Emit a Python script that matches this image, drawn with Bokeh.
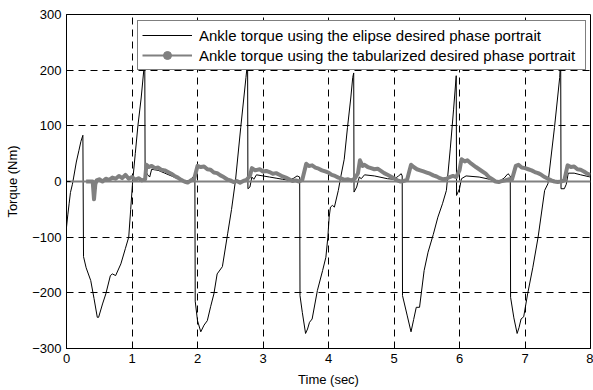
from bokeh.plotting import figure
from bokeh.models import Range1d, Legend, LegendItem, ColumnDataSource
from bokeh.embed import file_html
from bokeh.resources import INLINE

# Ankle torque using the elipse desired phase portrait (black)
t_elipse = [0.00, 0.02, 0.04, 0.06, 0.09, 0.11, 0.15, 0.19, 0.22, 0.25, 0.26, 0.30, 0.37, 0.42, 0.47, 0.49,
            0.55, 0.60, 0.67, 0.70, 0.75, 0.83, 0.90, 0.95, 0.98, 1.01, 1.05, 1.09, 1.14, 1.18, 1.195,
            1.20, 1.24, 1.27, 1.30, 1.40, 1.50, 1.60, 1.70, 1.80, 1.88, 1.93, 1.96, 1.965,
            2.00, 2.05, 2.10, 2.15, 2.20, 2.25, 2.30, 2.38, 2.46, 2.52, 2.58, 2.66, 2.74, 2.765,
            2.77, 2.80, 2.83, 2.86, 2.90, 3.00, 3.10, 3.20, 3.30, 3.40, 3.47, 3.52, 3.56, 3.565,
            3.60, 3.65, 3.68, 3.71, 3.75, 3.83, 3.91, 3.96, 3.99, 4.01, 4.03, 4.06, 4.09, 4.15, 4.19,
            4.24, 4.29, 4.34, 4.37, 4.385,
            4.39, 4.43, 4.47, 4.50, 4.55, 4.70, 4.90, 5.00, 5.07, 5.11, 5.125, 5.13,
            5.20, 5.26, 5.30, 5.34, 5.39, 5.46, 5.52, 5.60, 5.67, 5.74, 5.80, 5.86, 5.91, 5.95,
            5.955, 6.00, 6.03, 6.10, 6.30, 6.50, 6.60, 6.68, 6.74, 6.775, 6.78,
            6.83, 6.88, 6.91, 6.94, 6.98, 7.04, 7.12, 7.20, 7.30, 7.35, 7.45, 7.53, 7.545,
            7.55, 7.60, 7.63, 7.66, 7.75, 7.85, 8.00]
torque_elipse = [-82, -60, -40, -20, -5, 8, 35, 56, 72, 83, -135, -155, -178, -210, -244, -244,
                 -220, -202, -169, -166, -169, -148, -120, -100, -50, 0, 50, 100, 150, 200, 220,
                 20, 12, 8, 22, 20, 15, 10, 5, 0, 2, 8, 6, -215,
                 -250, -270, -258, -250, -225, -202, -166, -153, -94, -50, 2, 97, 187, 215,
                 -13, -10, 8, 4, 12, 10, 8, 6, 4, 2, 6, 10, 8, -205,
                 -235, -273, -265, -253, -247, -196, -160, -136, -100, -64, -46, -43, -46, -16, 10,
                 40, 97, 150, 187, 195,
                 -19, -10, 8, 5, 12, 10, 5, 4, 10, 14, 10, -205,
                 -240, -270, -248, -226, -226, -160, -127, -95, -64, -40, -16, 60, 130, 190,
                 -25, -13, 5, 10, 8, 3, 0, 6, 14, 10, -208,
                 -245, -273, -262, -247, -243, -202, -154, -100, -16, -4, 97, 187, 220,
                 -13, -13, -5, 15, 15, 12, 8]

# Ankle torque using the tabularized desired phase portrait (grey)
t_tab = [0.30, 0.40, 0.42, 0.44, 0.46, 0.50, 0.55, 0.60, 0.65, 0.70, 0.75, 0.80, 0.85, 0.90, 0.95,
         1.00, 1.05, 1.10, 1.15, 1.20, 1.22, 1.26, 1.30, 1.35, 1.40, 1.45, 1.50, 1.55, 1.60, 1.65,
         1.70, 1.75, 1.80, 1.85, 1.90, 1.95, 2.00, 2.05, 2.10, 2.15, 2.20, 2.25, 2.30, 2.35, 2.40,
         2.45, 2.50, 2.55, 2.60, 2.65, 2.70, 2.75, 2.80, 2.83, 2.88, 2.95, 3.00, 3.05, 3.10, 3.15,
         3.20, 3.25, 3.30, 3.35, 3.40, 3.45, 3.50, 3.55, 3.60, 3.66, 3.70, 3.75, 3.80, 3.85, 3.90,
         3.95, 4.00, 4.05, 4.10, 4.15, 4.20, 4.25, 4.30, 4.35, 4.40, 4.45, 4.48, 4.52, 4.55, 4.60,
         4.65, 4.70, 4.75, 4.80, 4.85, 4.90, 4.95, 5.00, 5.05, 5.10, 5.15, 5.20, 5.26, 5.30, 5.35,
         5.40, 5.45, 5.50, 5.55, 5.60, 5.65, 5.70, 5.75, 5.80, 5.85, 5.90, 5.95, 6.00, 6.03, 6.08,
         6.12, 6.18, 6.25, 6.30, 6.35, 6.40, 6.45, 6.50, 6.55, 6.60, 6.65, 6.70, 6.75, 6.80, 6.86,
         6.90, 6.95, 7.00, 7.05, 7.10, 7.15, 7.20, 7.25, 7.30, 7.35, 7.40, 7.45, 7.50, 7.55, 7.60,
         7.65, 7.70, 7.75, 7.80, 7.85, 7.90, 7.95, 8.00]
torque_tab = [0, 0, -32, -5, 2, 4, 0, 5, 3, 7, 5, 10, 6, 12, 5,
              8, 3, 6, 2, 4, 30, 26, 28, 24, 25, 21, 20, 17, 14, 10,
              7, 3, 0, -2, 2, 5, 28, 26, 27, 22, 21, 16, 15, 11, 8,
              4, 2, -1, 1, -2, 1, 3, 10, 24, 20, 22, 18, 19, 17, 14,
              15, 12, 9, 7, 4, 1, 2, 0, 3, 32, 28, 29, 25, 23, 20,
              18, 16, 12, 10, 7, 5, 3, 4, 2, 5, 15, 38, 28, 30, 26,
              24, 22, 23, 19, 15, 12, 9, 6, 2, 0, 1, 3, 30, 26, 22,
              20, 18, 16, 14, 11, 9, 6, 4, 5, 8, 10, 8, 20, 40, 36,
              38, 32, 26, 22, 18, 14, 8, 4, 0, -1, 1, 2, 4, 3, 28,
              30, 25, 24, 22, 20, 17, 15, 12, 8, 5, 2, 0, -1, 0, 2,
              29, 26, 27, 22, 21, 18, 14, 12]

# zero reference line
t_zero = [0, 8]
torque_zero = [0, 0]

x_ticks = [0, 1, 2, 3, 4, 5, 6, 7, 8]
y_ticks = [-300, -200, -100, 0, 100, 200, 300]

FONT = "Liberation Sans"
GREY = "#808080"

p = figure(width=593, height=390, output_backend="svg", toolbar_location=None,
           x_range=Range1d(0, 8), y_range=Range1d(-300, 300),
           min_border_left=66, min_border_right=3, min_border_top=14, min_border_bottom=42)
p.background_fill_color = "white"
p.border_fill_color = "white"
p.outline_line_color = "black"
p.outline_line_width = 1

black = p.line(t_elipse, torque_elipse, line_color="black", line_width=1)
gsrc = ColumnDataSource(dict(x=t_tab, y=torque_tab))
p.line("x", "y", source=gsrc, line_color=GREY, line_width=4, line_join="round")
gline_leg = p.line("x", "y", source=gsrc, line_color=GREY, line_width=2, visible=False)
gdots_leg = p.scatter("x", "y", source=gsrc, size=5, marker="circle",
                      fill_color=GREY, line_color=GREY, visible=False)
p.line(t_zero, torque_zero, line_color=GREY, line_width=2)

for ax in (p.xaxis[0], p.yaxis[0]):
    ax.axis_line_color = "black"
    ax.major_tick_line_color = "black"
    ax.major_tick_in = 4
    ax.major_tick_out = 0
    ax.minor_tick_line_color = None
    ax.major_label_text_font = FONT
    ax.major_label_text_font_size = "13px"
    ax.major_label_text_color = "black"
    ax.axis_label_text_font = FONT
    ax.axis_label_text_font_size = "13px"
    ax.axis_label_text_font_style = "normal"
    ax.axis_label_text_color = "black"

p.xaxis.ticker = x_ticks
p.yaxis.ticker = y_ticks
p.xaxis.axis_label = "Time (sec)"
p.yaxis.axis_label = "Torque (Nm)"
p.xaxis.major_label_standoff = 5
p.yaxis.major_label_standoff = 5
p.xaxis.axis_label_standoff = 6
p.yaxis.axis_label_standoff = 9

p.xgrid.ticker = x_ticks
p.ygrid.ticker = y_ticks
for g in (p.xgrid[0], p.ygrid[0]):
    g.grid_line_color = "black"
    g.grid_line_dash = "7 5"
    g.grid_line_width = 1

legend = Legend(items=[
    LegendItem(label="Ankle torque using the elipse desired phase portrait", renderers=[black]),
    LegendItem(label="Ankle torque using the tabularized desired phase portrait", renderers=[gline_leg, gdots_leg]),
], location=(71, 278))
legend.margin = 0
legend.padding = 4
legend.spacing = 0
legend.glyph_width = 50
legend.glyph_height = 20
legend.label_height = 20
legend.label_width = 382
legend.label_standoff = 7
legend.label_text_font = FONT
legend.label_text_font_size = "15px"
legend.label_text_color = "black"
legend.border_line_color = "black"
legend.border_line_width = 1
legend.background_fill_color = "white"
legend.background_fill_alpha = 1.0
p.add_layout(legend)

open("out.html", "w").write(file_html(p, INLINE))
